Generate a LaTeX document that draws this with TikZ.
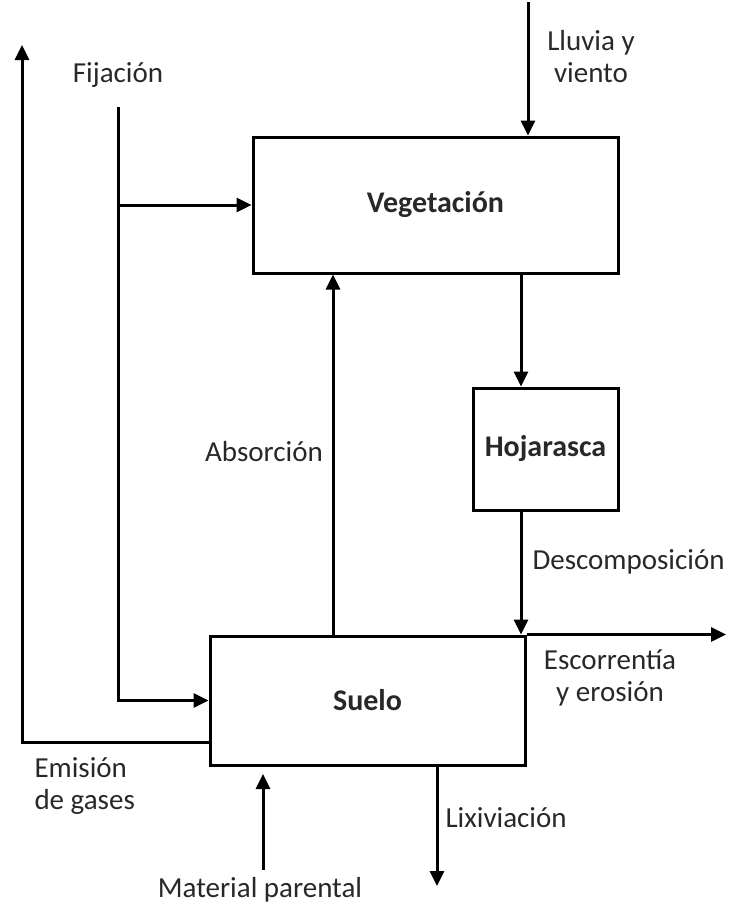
\documentclass[tikz,border=0pt]{standalone}
\usepackage{fontspec}
\setmainfont{Carlito}
\usetikzlibrary{arrows.meta}
\definecolor{txt}{RGB}{40,40,40}
\begin{document}
\begin{tikzpicture}[x=1pt,y=-1pt,line width=3pt,>={Triangle[length=15pt,width=14pt]},
 line cap=butt,line join=miter,font=\fontsize{29}{32}\selectfont,
 box/.style={draw,inner sep=0pt,text=txt,font=\fontsize{30}{34}\selectfont\bfseries},
 lbl/.style={inner sep=0pt,text=txt}]
\useasboundingbox (0,0) rectangle (732,911);
% boxes
\node[box,minimum width=365,minimum height=136] (veg) at (435.5,205) {Vegetaci\'on};
\node[box,minimum width=145,minimum height=122] (hoj) at (545.5,449) {Hojarasca};
\node[box,minimum width=315,minimum height=129] (suelo) at (367.5,700.5) {Suelo};
% free ends
\coordinate (lluvia) at (528,2);
\coordinate (desc) at (521,0);
\coordinate (abs) at (333,0);
\coordinate (fij) at (118,107);
\coordinate (gas) at (0,742);
\coordinate (emtop) at (22,45);
\coordinate (esc) at (726,0);
\coordinate (matA) at (263,870);
\coordinate (matB) at (263,774);
\coordinate (lix) at (437,886);
% flows
\draw[->] (lluvia) -- (lluvia |- veg.north);
\draw[->] (veg.south -| desc) -- (hoj.north -| desc);
\draw[->] (hoj.south -| desc) -- (suelo.north -| desc);
\draw[->] (suelo.north -| abs) -- (veg.south -| abs);
\draw[->] (fij) |- (suelo.west);
\draw[->] (fij |- veg.west) -- (veg.west);
\draw[->] (suelo.west |- gas) -| (emtop);
\draw[->] (suelo.north east) -- (suelo.north east -| esc);
\draw[->] (matA) -- (matB);
\draw[->] (suelo.south -| lix) -- (lix);
% labels
\node[lbl] (tfij) at (118,75) {Fijaci\'on};
\node[lbl,align=center] (tlluvia) at (591,57) {Lluvia y\\viento};
\node[lbl] (tabs) at (264,452) {Absorci\'on};
\node[lbl,anchor=west] (tdesc) at (531,562) {Descomposici\'on};
\node[lbl,align=center] (tesc) at (610,678) {Escorrent\'ia\\y erosi\'on};
\node[lbl,align=left,anchor=west] (tgas) at (33,786) {Emisi\'on\\de gases};
\node[lbl,anchor=west] (tlix) at (444,818) {Lixiviaci\'on};
\node[lbl] (tmat) at (260,890) {Material parental};
\end{tikzpicture}
\end{document}
